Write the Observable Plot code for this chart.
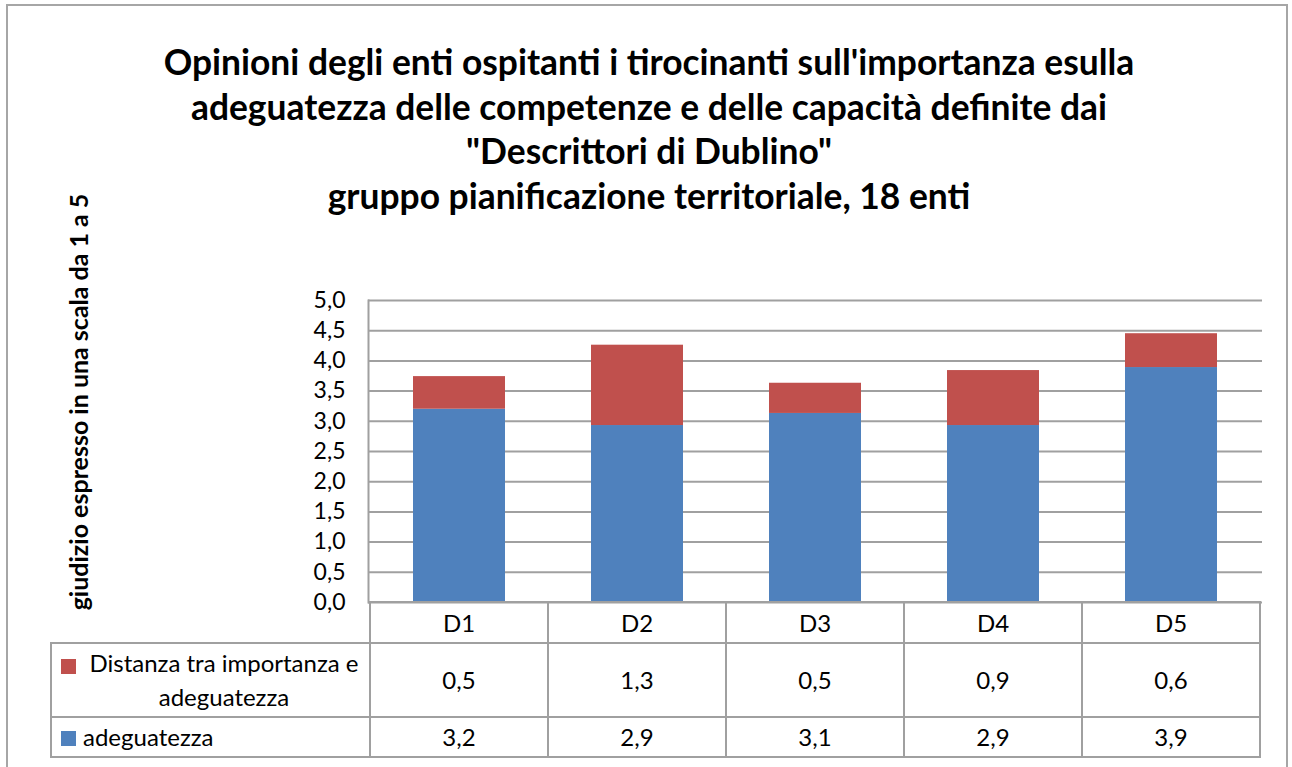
<!DOCTYPE html>
<html><head><meta charset="utf-8">
<script src="https://cdn.jsdelivr.net/npm/d3@7"></script>
<script src="https://cdn.jsdelivr.net/npm/@observablehq/plot@0.6"></script>
<style>
body{margin:0;background:#fff;font-family:Lato,"Open Sans",sans-serif;color:#000}
#wrap{position:relative;width:1292px;height:767px;overflow:hidden;background:#fff}
#border{position:absolute;left:6px;top:4px;width:1282px;height:800px;border:2px solid #a6a6a6;box-sizing:border-box}
#title{position:absolute;left:0;width:1298px;top:40px;text-align:center;font-weight:700;font-size:35.4px;line-height:44.5px;white-space:nowrap}
#ylabel{position:absolute;left:78px;top:402px;transform:translate(-50%,-50%) rotate(-90deg);white-space:nowrap;font-weight:700;font-size:25px}
#chart{position:absolute;left:0;top:280px}
.cell{position:absolute;box-sizing:border-box;display:flex;align-items:center;justify-content:center;font-size:24px;text-align:center;line-height:34px}
.hl{position:absolute;height:2px;background:#a0a0a0}
.vl{position:absolute;width:2px;background:#a0a0a0}
.sw{position:absolute;width:15px;height:15px}
</style></head>
<body><div id="wrap"><div id="border"></div>
<div id="title"></div><div id="ylabel"></div><div id="chart"></div></div>
<script>
const categories = ["D1","D2","D3","D4","D5"];
const adeguatezza = [3.2, 2.93, 3.13, 2.93, 3.89];
const distanza = [0.54, 1.33, 0.5, 0.91, 0.56];
const seriesNames = ["adeguatezza", "Distanza tra importanza e adeguatezza"];
const seriesColors = ["#4F81BD", "#C0504D"];
const yTicks = [0, 0.5, 1, 1.5, 2, 2.5, 3, 3.5, 4, 4.5, 5];
const titleLines = [
  "Opinioni degli enti ospitanti i tirocinanti sull'importanza esulla",
  "adeguatezza delle competenze e delle capacità definite dai",
  "\"Descrittori di Dublino\"",
  "gruppo pianificazione territoriale, 18 enti"
];
const yLabel = "giudizio espresso in una scala da 1 a 5";

const fmt = d => d3.format(".1f")(d).replace(".", ",");
const rows = [];
categories.forEach((c, i) => {
  rows.push({cat: c, series: seriesNames[0], value: adeguatezza[i]});
  rows.push({cat: c, series: seriesNames[1], value: distanza[i]});
});

document.getElementById("title").innerHTML = titleLines.map(t => `<div>${t.replace(/&/g,"&amp;").replace(/</g,"&lt;")}</div>`).join("");
document.getElementById("ylabel").textContent = yLabel;

const plotTop = 280;
const chart = Plot.plot({
  width: 1292, height: 340,
  marginLeft: 368, marginRight: 30, marginTop: 20, marginBottom: 18,
  style: {fontFamily: "Lato, 'Open Sans', sans-serif", color: "#000", background: "transparent"},
  x: {domain: categories, paddingInner: 0.485, paddingOuter: 0.2425, axis: null},
  y: {domain: [0, 5], axis: null},
  color: {domain: seriesNames, range: seriesColors},
  marks: [
    Plot.gridY(yTicks, {stroke: "#a0a0a0", strokeOpacity: 1, strokeWidth: 2}),
    Plot.barY(rows, {x: "cat", y: "value", fill: "series"}),
    Plot.frame({anchor: "left", stroke: "#a0a0a0", strokeWidth: 2}),
    Plot.axisY(yTicks, {tickFormat: fmt, tickSize: 0, tickPadding: 23, label: null, fontSize: 23})
  ]
});
document.getElementById("chart").appendChild(chart);

// data table below the plot
const wrap = document.getElementById("wrap");
const xs = chart.scale("x");
const ys = chart.scale("y");
const step = xs.step, bw = xs.bandwidth;
const colLeft = categories.map(c => xs.apply(c) - (step - bw) / 2);
const tableRight = colLeft[colLeft.length - 1] + step;
const y0 = plotTop + ys.apply(0);   // top of table
const rowH = [41, 74, 40];
const rowTop = [y0, y0 + rowH[0], y0 + rowH[0] + rowH[1]];
const tableBottom = rowTop[2] + rowH[2];
const labelLeft = 51;
function add(cls, styles, html) {
  const d = document.createElement("div");
  d.className = cls;
  Object.assign(d.style, styles);
  if (html !== undefined) d.innerHTML = html;
  wrap.appendChild(d);
  return d;
}
// horizontal lines
add("hl", {left: colLeft[0] - 1 + "px", top: y0 - 1 + "px", width: tableRight - colLeft[0] + 2 + "px"});
[rowTop[1], rowTop[2], tableBottom].forEach(y => add("hl", {left: labelLeft + "px", top: y - 1 + "px", width: tableRight - labelLeft + 1 + "px"}));
// vertical lines
colLeft.concat([tableRight]).forEach(x => add("vl", {left: x - 1 + "px", top: y0 - 1 + "px", height: tableBottom - y0 + 2 + "px"}));
add("vl", {left: labelLeft - 1 + "px", top: rowTop[1] - 1 + "px", height: tableBottom - rowTop[1] + 2 + "px"});
// header cells
categories.forEach((c, i) => add("cell", {left: colLeft[i] + "px", top: rowTop[0] + "px", width: step + "px", height: rowH[0] + "px"}, c));
// value cells (row order: distanza then adeguatezza)
const tableSeries = [[seriesNames[1], distanza, seriesColors[1]], [seriesNames[0], adeguatezza, seriesColors[0]]];
tableSeries.forEach(([name, vals, col], r) => {
  vals.forEach((v, i) => add("cell", {left: colLeft[i] + "px", top: rowTop[r + 1] + "px", width: step + "px", height: rowH[r + 1] + "px"}, fmt(v)));
});
// legend labels
add("sw", {left: "61px", top: rowTop[1] + 16 + "px", background: seriesColors[1]});
add("cell", {left: "80px", top: rowTop[1] + "px", width: colLeft[0] - 80 - 2 + "px", height: rowH[1] + "px", whiteSpace: "nowrap"},
  "Distanza tra importanza e<br>adeguatezza");
add("sw", {left: "61px", top: rowTop[2] + 14 + "px", background: seriesColors[0]});
add("cell", {left: "83px", top: rowTop[2] + "px", height: rowH[2] + "px", justifyContent: "flex-start"}, seriesNames[0]);
</script></body></html>
